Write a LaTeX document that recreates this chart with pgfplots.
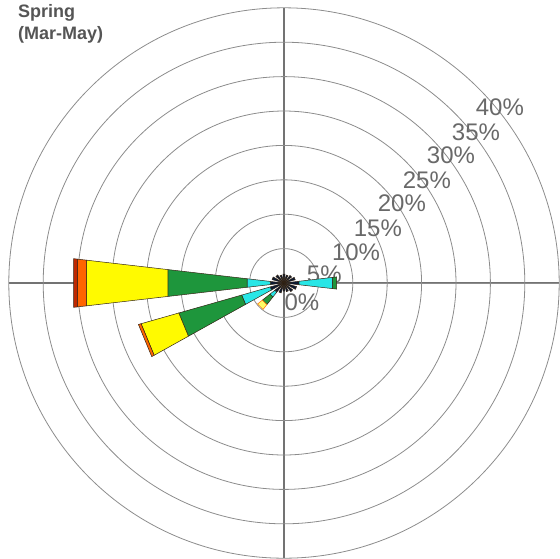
\documentclass[border=0pt]{standalone}
\usepackage{pgfplots}
\pgfplotsset{compat=1.18}
\usepgfplotslibrary{polar}
\usepackage{fontspec}
\setmainfont{Liberation Sans}
\definecolor{cnavy}{RGB}{10,25,50}
\definecolor{ccyan}{RGB}{40,230,230}
\definecolor{cgreen}{RGB}{30,150,60}
\definecolor{cyellow}{RGB}{255,250,0}
\definecolor{corange}{RGB}{255,100,0}
\definecolor{cred}{RGB}{190,40,0}
\definecolor{cgrid}{RGB}{140,140,140}
\definecolor{ccross}{RGB}{115,115,115}
\definecolor{clabel}{RGB}{105,105,105}
\definecolor{ctitle}{RGB}{85,85,85}
\definecolor{cedge}{RGB}{50,35,20}
\begin{document}
\begin{tikzpicture}
\path[use as bounding box] (0pt,0pt) rectangle (560pt,-558pt);
\clip (0pt,0pt) rectangle (560pt,-558pt);
\begin{polaraxis}[
  at={(284pt,-283pt)}, anchor=origin,
  scale only axis, width=550.4pt, height=550.4pt,
  xmin=0, xmax=360, ymin=0, ymax=40,
  xtick={0,90,180,270}, ytick={5,10,...,35},
  xticklabels={}, yticklabels={},
  major tick length=0pt,
  xmajorgrids, ymajorgrids,
  x grid style={ccross, line width=1.1pt},
  y grid style={cgrid, line width=0.8pt},
  axis line style={cgrid, line width=0.8pt},
  clip=false,
  every axis plot/.append style={draw=cedge, line width=0.5pt},
]
% ring labels
\begin{scope}[every node/.style={text=clabel, font=\fontsize{24}{27}\selectfont, anchor=center, inner sep=0pt}]
\node at (axis cs:-46.5,3.8) {0\%};
\node at (axis cs:12.7,6.0) {5\%};
\node at (axis cs:23.3,11.4) {10\%};
\node at (axis cs:30.3,15.8) {15\%};
\node at (axis cs:34.1,20.7) {20\%};
\node at (axis cs:35.8,25.6) {25\%};
\node at (axis cs:37.5,30.6) {30\%};
\node at (axis cs:38.2,35.5) {35\%};
\node at (axis cs:39.2,40.5) {40\%};
\end{scope}
% small navy wedges in all directions
\addplot[fill=cnavy] coordinates {(0,0) (-6.6,2.2) (6.6,2.2)} -- cycle;
\addplot[fill=cnavy] coordinates {(0,0) (15.9,1.7) (29.1,1.7)} -- cycle;
\addplot[fill=cnavy] coordinates {(0,0) (38.4,1.4) (51.6,1.4)} -- cycle;
\addplot[fill=cnavy] coordinates {(0,0) (60.9,1.2) (74.1,1.2)} -- cycle;
\addplot[fill=cnavy] coordinates {(0,0) (83.4,1.3) (96.6,1.3)} -- cycle;
\addplot[fill=cnavy] coordinates {(0,0) (105.9,1.2) (119.1,1.2)} -- cycle;
\addplot[fill=cnavy] coordinates {(0,0) (128.4,1.5) (141.6,1.5)} -- cycle;
\addplot[fill=cnavy] coordinates {(0,0) (150.9,1.8) (164.1,1.8)} -- cycle;
\addplot[fill=cnavy] coordinates {(0,0) (173.4,2.0) (186.6,2.0)} -- cycle;
\addplot[fill=cnavy] coordinates {(0,0) (195.9,2.1) (209.1,2.1)} -- cycle;
\addplot[fill=cnavy] coordinates {(0,0) (218.4,1.7) (231.6,1.7)} -- cycle;
\addplot[fill=cnavy] coordinates {(0,0) (240.9,1.5) (254.1,1.5)} -- cycle;
\addplot[fill=cnavy] coordinates {(0,0) (263.4,1.2) (276.6,1.2)} -- cycle;
\addplot[fill=cnavy] coordinates {(0,0) (285.9,1.3) (299.1,1.3)} -- cycle;
\addplot[fill=cnavy] coordinates {(0,0) (308.4,1.6) (321.6,1.6)} -- cycle;
\addplot[fill=cnavy] coordinates {(0,0) (330.9,1.9) (344.1,1.9)} -- cycle;
% East
\addplot[fill=ccyan] coordinates {(-6.6,2.2) (6.6,2.2) (6.6,7.1) (-6.6,7.1)} -- cycle;
\addplot[fill=cgreen] coordinates {(-6.6,7.1) (6.6,7.1) (6.6,7.7) (-6.6,7.7)} -- cycle;
% West
\addplot[fill=ccyan] coordinates {(173.4,2.0) (186.6,2.0) (186.6,5.4) (173.4,5.4)} -- cycle;
\addplot[fill=cgreen] coordinates {(173.4,5.4) (186.6,5.4) (186.6,17.0) (173.4,17.0)} -- cycle;
\addplot[fill=cyellow] coordinates {(173.4,17.0) (186.6,17.0) (186.6,28.9) (173.4,28.9)} -- cycle;
\addplot[fill=corange] coordinates {(173.4,28.9) (186.6,28.9) (186.6,30.2) (173.4,30.2)} -- cycle;
\addplot[fill=cred] coordinates {(173.4,30.2) (186.6,30.2) (186.6,30.8) (173.4,30.8)} -- cycle;
% West-south-west
\addplot[fill=ccyan] coordinates {(195.9,2.1) (209.1,2.1) (209.1,6.4) (195.9,6.4)} -- cycle;
\addplot[fill=cgreen] coordinates {(195.9,6.4) (209.1,6.4) (209.1,15.9) (195.9,15.9)} -- cycle;
\addplot[fill=cyellow] coordinates {(195.9,15.9) (209.1,15.9) (209.1,21.6) (195.9,21.6)} -- cycle;
\addplot[fill=corange] coordinates {(195.9,21.6) (209.1,21.6) (209.1,22.0) (195.9,22.0)} -- cycle;
% South-west
\addplot[fill=ccyan] coordinates {(218.4,1.7) (231.6,1.7) (231.6,2.6) (218.4,2.6)} -- cycle;
\addplot[fill=cgreen] coordinates {(218.4,2.6) (231.6,2.6) (231.6,4.0) (218.4,4.0)} -- cycle;
\addplot[fill=cyellow!60!white, draw=corange] coordinates {(218.4,4.0) (231.6,4.0) (231.6,4.9) (218.4,4.9)} -- cycle;
\end{polaraxis}
\node[anchor=north west, align=left, text=ctitle, font=\bfseries\fontsize{18}{22}\selectfont, inner sep=0pt] at (18pt,-4pt) {Spring\\(Mar-May)};
\end{tikzpicture}
\end{document}
